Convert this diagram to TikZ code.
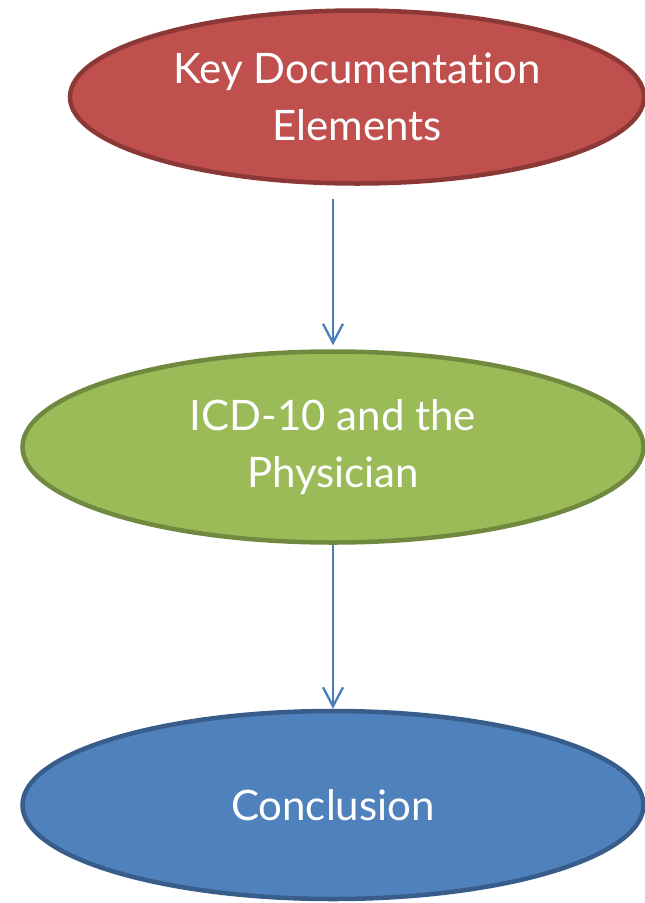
\documentclass[tikz,border=0pt]{standalone}
\usepackage{fontspec}
\setmainfont{Lato}[Ligatures={NoCommon,NoRare}]
\usetikzlibrary{arrows.meta,shapes.geometric}
\definecolor{redfill}{HTML}{C0504D}
\definecolor{redline}{HTML}{8C3836}
\definecolor{greenfill}{HTML}{9BBB59}
\definecolor{greenline}{HTML}{71893F}
\definecolor{bluefill}{HTML}{4F81BD}
\definecolor{blueline}{HTML}{385D8A}
\definecolor{arrowblue}{HTML}{4A7EBB}
\tikzset{
  oval/.style={ellipse, inner sep=0pt, line width=4.5pt, text=white, align=center,
    font=\fontsize{42}{57}\selectfont},
  flow/.style={draw=arrowblue, line width=2.3pt, -{Straight Barb[length=19pt,width=20pt,line width=2.3pt]}}
}
\begin{document}
\begin{tikzpicture}[x=1pt,y=-1pt]
\useasboundingbox[fill=white] (0,0) rectangle (645,903);
\node[oval, fill=redfill, draw=redline, minimum width=574pt, minimum height=173pt] (key) at (357,97) {Key Documentation\\Elements};
\node[oval, fill=greenfill, draw=greenline, minimum width=621pt, minimum height=191pt] (icd) at (333,447) {ICD-10 and the\\Physician};
\node[oval, fill=bluefill, draw=blueline, minimum width=621pt, minimum height=188pt] (concl) at (333,805) {Conclusion};
\coordinate (a1) at (333,199);
\draw[flow, shorten >=4pt] (a1) -- (icd.north);
\draw[flow] (icd.south) -- (concl.north);
\end{tikzpicture}
\end{document}
